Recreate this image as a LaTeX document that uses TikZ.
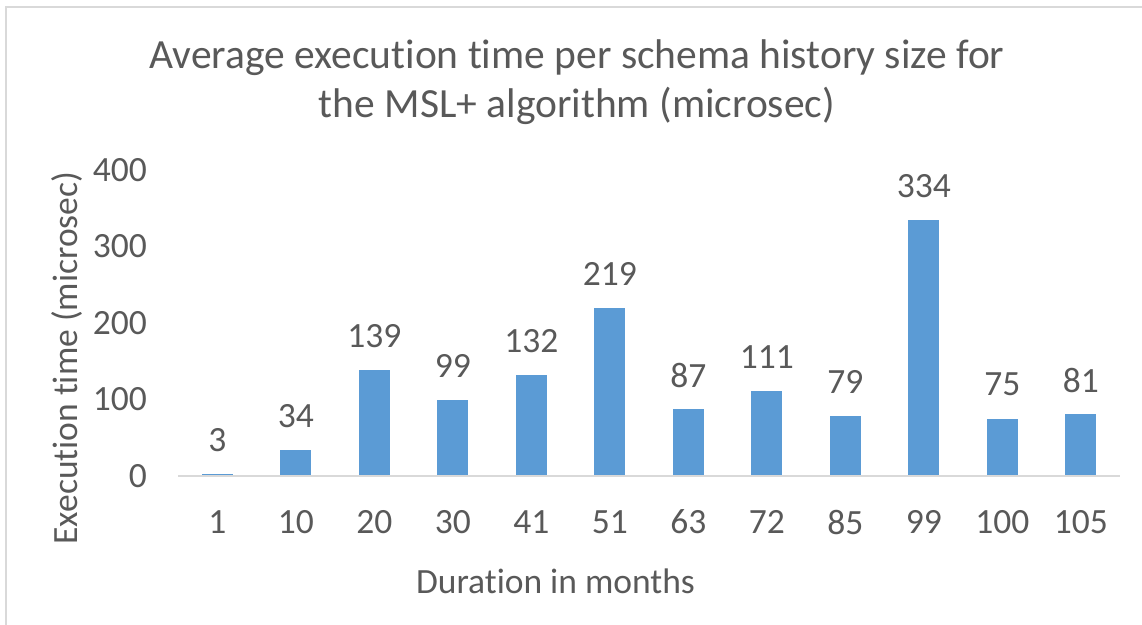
\documentclass[tikz,border=0pt]{standalone}
\usepackage{fontspec}
\setmainfont{Carlito}[Ligatures=NoCommon]
\definecolor{txtgray}{HTML}{595959}
\definecolor{barblue}{HTML}{5B9BD5}
\definecolor{linegray}{HTML}{D9D9D9}
\begin{document}
\begin{tikzpicture}[x=1pt,y=-1pt,
  lbl/.style={text=txtgray,inner sep=0pt,font=\fontsize{35.5}{42}\selectfont},
  ttl/.style={text=txtgray,inner sep=0pt,font=\fontsize{41.5}{48}\selectfont},
  bar/.style={fill=barblue,draw=none}]
\useasboundingbox (0,0) rectangle (1142,624);
\fill[white] (0,0) rectangle (1142,624);
% chart area frame (top and left edges)
\draw[linegray,line width=1.5pt] (6,632) -- (6,7) -- (1150,7);

% title
\node[ttl,anchor=base] (t1) at (577,68) {Average execution time per schema history size for};
\node[ttl,anchor=base] (t2) at (577,117) {the MSL+ algorithm (microsec)};

% value axis labels
\foreach \v in {0,100,200,300,400}{
  \node[lbl,anchor=east] (y\v) at (147,{476-0.765*\v}) {\v};
}
\node[lbl,rotate=90,anchor=base] (ytitle) at (77,358) {Execution time (microsec)};

% bars, category labels and data labels
\foreach \c/\v [count=\i from 0] in {1/3,10/34,20/139,30/99,41/132,51/219,63/87,72/111,85/79,99/334,100/75,105/81}{
  \pgfmathsetmacro{\xc}{217.25+78.5*\i}
  \pgfmathsetmacro{\yt}{476-0.765*\v}
  \fill[bar] (\xc-15.5,476) rectangle (\xc+15.5,\yt);
  \node[lbl] (v\i) at (\xc,\yt-34) {\v};
  \node[lbl] (c\i) at (\xc,522) {\c};
}
% category axis
\coordinate (axl) at (178,476);
\coordinate (axr) at (1120,476);
\draw[linegray,line width=1.5pt] (axl) -- (axr);

\node[lbl] (xtitle) at (555.5,581) {Duration in months};
\end{tikzpicture}
\end{document}
